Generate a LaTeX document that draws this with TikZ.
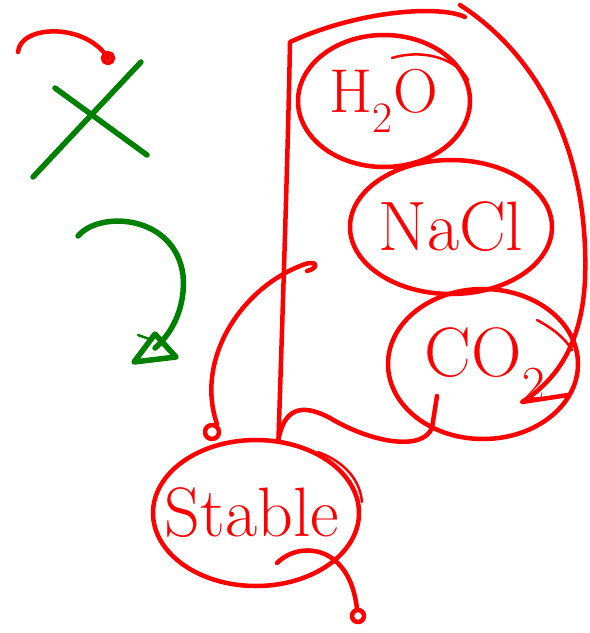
\documentclass[tikz,border=0pt]{standalone}
\usetikzlibrary{shapes.geometric,positioning}
\begin{document}
\begin{tikzpicture}[x=1pt,y=-1pt,line cap=round,line join=round]

  \tikzset{ink/.style={red,line width=4.5pt},
    thinink/.style={red,line width=2.5pt},
    leaf/.style={green!50!black,line width=5.5pt},
    bubble/.style={ellipse,draw=red,line width=4.5pt,inner sep=0pt},
    word/.style={text=red,font=\fontsize{70}{74}\selectfont,inner sep=0pt}}
  \useasboundingbox (0,0) rectangle (590,633);

  % the molecules and the result
  \node[bubble,minimum width=172pt,minimum height=132pt] (water) at (384,101) {};
  \node[bubble,minimum width=202pt,minimum height=134pt] (salt) at (451,227) {};
  \node[bubble,minimum width=190pt,minimum height=150pt] (gas) at (483,364) {};
  \node[bubble,minimum width=206pt,minimum height=146pt] (stable) at (256,513) {};
  \node[word,font=\fontsize{62}{66}\selectfont] (waterlabel) at (water) {H\textsubscript{2}O};
  \node[word] (saltlabel) at (salt) {NaCl};
  \node[word] (gaslabel) at ([xshift=2pt]gas) {CO\textsubscript{2}};
  \node[word] (stablelabel) at ([xshift=-4pt]stable) {Stable};

  % second strokes
  \draw[thinink] (392,58) .. controls (425,48) and (458,60) .. (468,80);
  \draw[thinink] (537,320) .. controls (552,328) and (565,338) .. (572,350);
  \draw[thinink] (318,452) .. controls (345,462) and (360,480) .. (362,502);

  % group outline
  \draw[ink] (stable.73) .. controls (283,300) and (288,150) .. (290,42)
    .. controls (360,10) and (440,5) .. (465,17);
  \draw[ink] (stable.73) .. controls (284,410) and (300,402) .. (330,418)
    .. controls (370,442) and (422,452) .. (432,428) -- (437,396);
  \draw[ink] (460,5) .. controls (530,50) and (590,140) .. (585,280)
    .. controls (582,340) and (560,378) .. (522,402) -- (568,395);

  % arrows
  \coordinate (curl) at (108,58);
  \draw[ink] (18,52) .. controls (20,25) and (85,22) .. (curl);
  \draw[ink] (curl) circle (5pt);

  \coordinate (hook) at (212,432);
  \draw[ink] (307,271) .. controls (320,268) and (318,258) .. (300,266)
    .. controls (240,290) and (195,360) .. (217,424);
  \draw[ink] (hook) circle (7pt);

  \coordinate (tail) at (358,616);
  \draw[ink] (277,563) .. controls (300,540) and (350,545) .. (357,609);
  \draw[ink] (tail) circle (6pt);

  % green marks
  \draw[leaf] (33,177) -- (141,62);
  \draw[leaf] (55,88) -- (147,155);
  \draw[leaf] (78,236) .. controls (100,210) and (175,215) .. (183,275)
    .. controls (186,310) and (170,335) .. (155,348);
  \draw[leaf] (155,334) -- (134,362) -- (176,357) -- cycle;
  \draw[leaf,line width=2.5pt] (138,335) -- (152,340);

\end{tikzpicture}
\end{document}
